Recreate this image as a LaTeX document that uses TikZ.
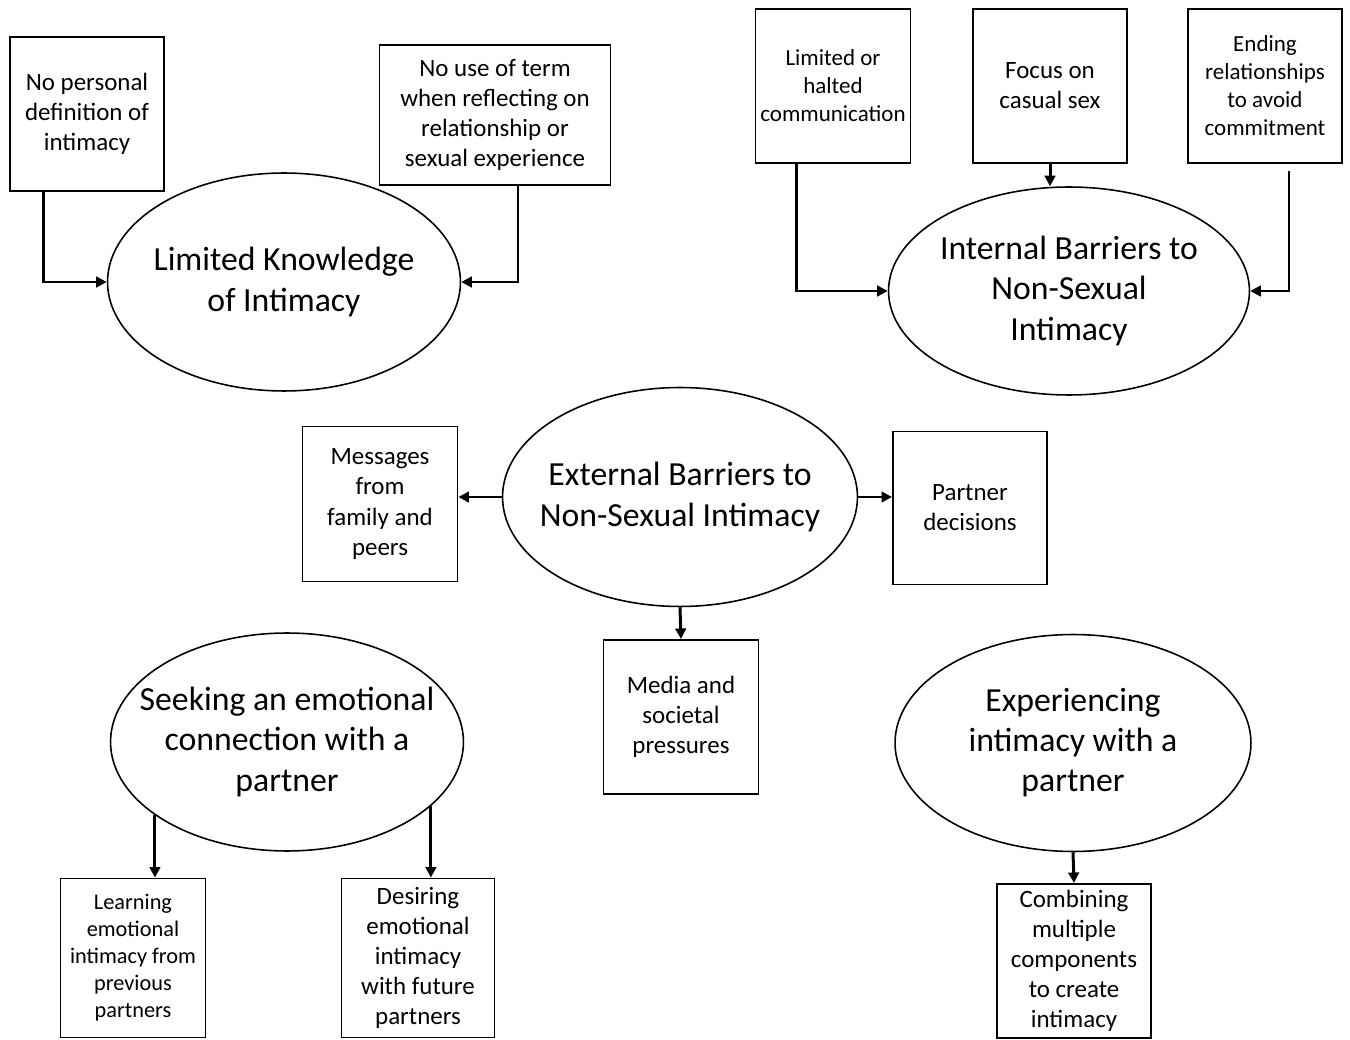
\documentclass[tikz,border=0pt]{standalone}
\usepackage{fontspec}
\setmainfont{Carlito}
\usetikzlibrary{shapes.geometric,arrows.meta}

\begin{document}
\begin{tikzpicture}[x=0.02cm,y=-0.02cm,
  box/.style={draw,line width=1.1pt,rectangle,inner sep=0pt,align=center,minimum width=3.08cm,minimum height=3.08cm,font=\fontsize{14.2}{17.1}\selectfont},
  smallbox/.style={box,font=\fontsize{13.1}{15.9}\selectfont},
  theme/.style={draw,line width=0.9pt,ellipse,inner sep=-1cm,align=center,minimum width=7.06cm,minimum height=4.36cm,font=\fontsize{19.2}{22.8}\selectfont},
  conn/.style={line width=1.7pt,-{Triangle[length=6pt,width=6pt]}}]
\useasboundingbox (0,0) rectangle (1350,1040);
\node[theme] (lk) at (284,282) {Limited Knowledge\\of Intimacy};
\node[box] (nodef) at (87,114) {No personal\\definition of\\intimacy};
\node[box,minimum width=4.62cm,minimum height=2.8cm] (noterm) at (495,115) {No use of term\\when reflecting on\\relationship or\\sexual experience};
\draw[conn] ([xshift=-0.88cm]nodef.south) |- (lk.west);
\draw[conn] ([xshift=0.46cm]noterm.south) |- (lk.east);
\node[theme,minimum width=7.22cm,minimum height=4.16cm] (ib) at (1069,291) {Internal Barriers to\\Non-Sexual\\Intimacy};
\node[smallbox,minimum width=3.1cm] (halted) at (833,86) {Limited or\\halted\\communication};
\node[box] (casual) at (1050,86) {Focus on\\casual sex};
\node[smallbox] (ending) at (1265,86) {Ending\\relationships\\to avoid\\commitment};
\draw[conn] ([xshift=-0.74cm]halted.south) |- (ib.west);
\draw[conn] (casual.south) -- (casual.south |- ib.north);
\draw[conn] ([xshift=0.48cm,yshift=-0.14cm]ending.south) |- (ib.east);
\node[theme,minimum width=7.1cm,minimum height=4.38cm] (eb) at (680,497) {External Barriers to\\Non-Sexual Intimacy};
\node[box,minimum width=3.1cm,minimum height=3.1cm] (messages) at (380,504) {Messages\\from\\family and\\peers};
\node[box,minimum height=3.06cm] (partner) at (970,508) {Partner\\decisions};
\node[box,minimum width=3.1cm] (media) at (681,717) {Media and\\societal\\pressures};
\draw[conn] (eb.west) -- (eb.west -| messages.east);
\draw[conn] (eb.east) -- (eb.east -| partner.west);
\draw[conn] (eb.south) -- (media.north);
\node[theme] (se) at (287,742) {Seeking an emotional\\connection with a\\partner};
\node[box,minimum width=2.9cm,minimum height=3.18cm,font=\fontsize{12.7}{15.4}\selectfont] (learning) at (133,958) {Learning\\emotional\\intimacy from\\previous\\partners};
\node[box,minimum width=3.06cm,minimum height=3.18cm] (desiring) at (418,958) {Desiring\\emotional\\intimacy\\with future\\partners};
\draw[conn] (se.209) -- (se.209 |- learning.north);
\draw[conn] (se.336) -- (se.336 |- desiring.north);
\node[theme,minimum width=7.12cm,minimum height=4.34cm] (ei) at (1073,743) {Experiencing\\intimacy with a\\partner};
\node[box] (combining) at (1074,961) {Combining\\multiple\\components\\to create\\intimacy};
\draw[conn] (ei.south) -- (combining.north);
\end{tikzpicture}
\end{document}
